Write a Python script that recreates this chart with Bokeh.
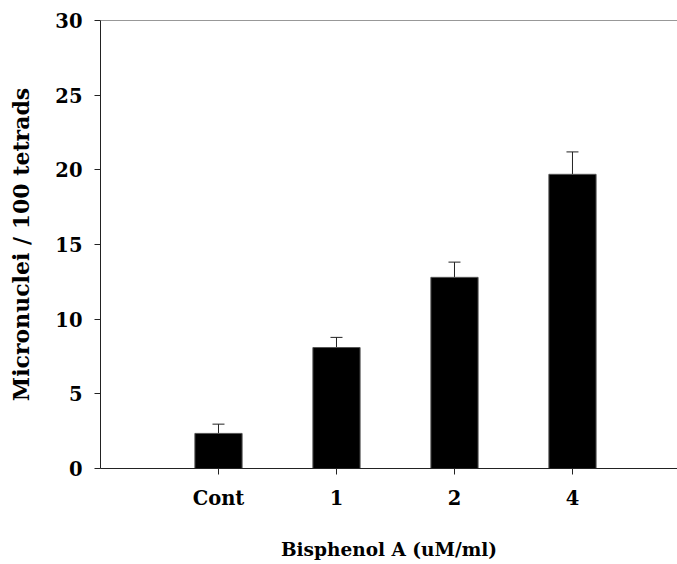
from bokeh.plotting import figure
from bokeh.models import ColumnDataSource, Whisker, TeeHead, FixedTicker, Span, Range1d
from bokeh.embed import file_html
from bokeh.resources import INLINE

categories = ["Cont", "1", "2", "4"]
means = [2.35, 8.1, 12.8, 19.7]
errors = [0.62, 0.68, 1.02, 1.5]
y_ticks = [0, 5, 10, 15, 20, 25, 30]

xs = list(range(1, len(categories) + 1))
src = ColumnDataSource(dict(
    x=xs, top=means,
    upper=[m + e for m, e in zip(means, errors)],
))

FONT = "DejaVu Serif"

p = figure(width=677, height=564, output_backend="svg", toolbar_location=None,
           x_range=Range1d(0, 4.89), y_range=Range1d(0, 30),
           min_border_left=100, min_border_top=20, min_border_right=0, min_border_bottom=96)
p.outline_line_color = None
p.xgrid.visible = False
p.ygrid.visible = False
p.background_fill_color = "white"
p.border_fill_color = "white"

p.vbar(x="x", top="top", width=0.4, bottom=0, source=src,
       fill_color="black", line_color="#555555", line_width=1)

w = Whisker(source=src, base="x", upper="upper", lower="top",
            line_color="#222222", line_width=1,
            upper_head=TeeHead(size=12, line_color="#222222", line_width=1),
            lower_head=None)
p.add_layout(w)

p.add_layout(Span(location=30, dimension="width", line_color="#333333", line_width=1))

p.xaxis.ticker = FixedTicker(ticks=xs)
p.xaxis.major_label_overrides = {x: c for x, c in zip(xs, categories)}
p.xaxis.minor_tick_line_color = None
p.xaxis.major_tick_out = 6
p.xaxis.major_tick_in = 0
p.xaxis.axis_label = "Bisphenol A (uM/ml)"
p.yaxis.ticker = FixedTicker(ticks=y_ticks)
p.yaxis.minor_tick_line_color = None
p.yaxis.major_tick_out = 6
p.yaxis.major_tick_in = 0
p.yaxis.axis_label = "Micronuclei / 100 tetrads"

for ax in (p.xaxis, p.yaxis):
    ax.axis_line_color = "#222222"
    ax.major_tick_line_color = "#222222"
    ax.major_label_text_font = FONT
    ax.major_label_text_font_style = "bold"
    ax.major_label_text_font_size = "19.5px"
    ax.major_label_text_color = "black"
    ax.axis_label_text_font = FONT
    ax.axis_label_text_font_style = "bold"
    ax.axis_label_text_color = "black"

p.xaxis.axis_label_text_font_size = "18.5px"
p.yaxis.axis_label_text_font_size = "22px"
p.xaxis.major_label_standoff = 12
p.xaxis.axis_label_standoff = 26
p.yaxis.major_label_standoff = 12
p.yaxis.axis_label_standoff = 18

open("out.html", "w").write(file_html(p, INLINE))
